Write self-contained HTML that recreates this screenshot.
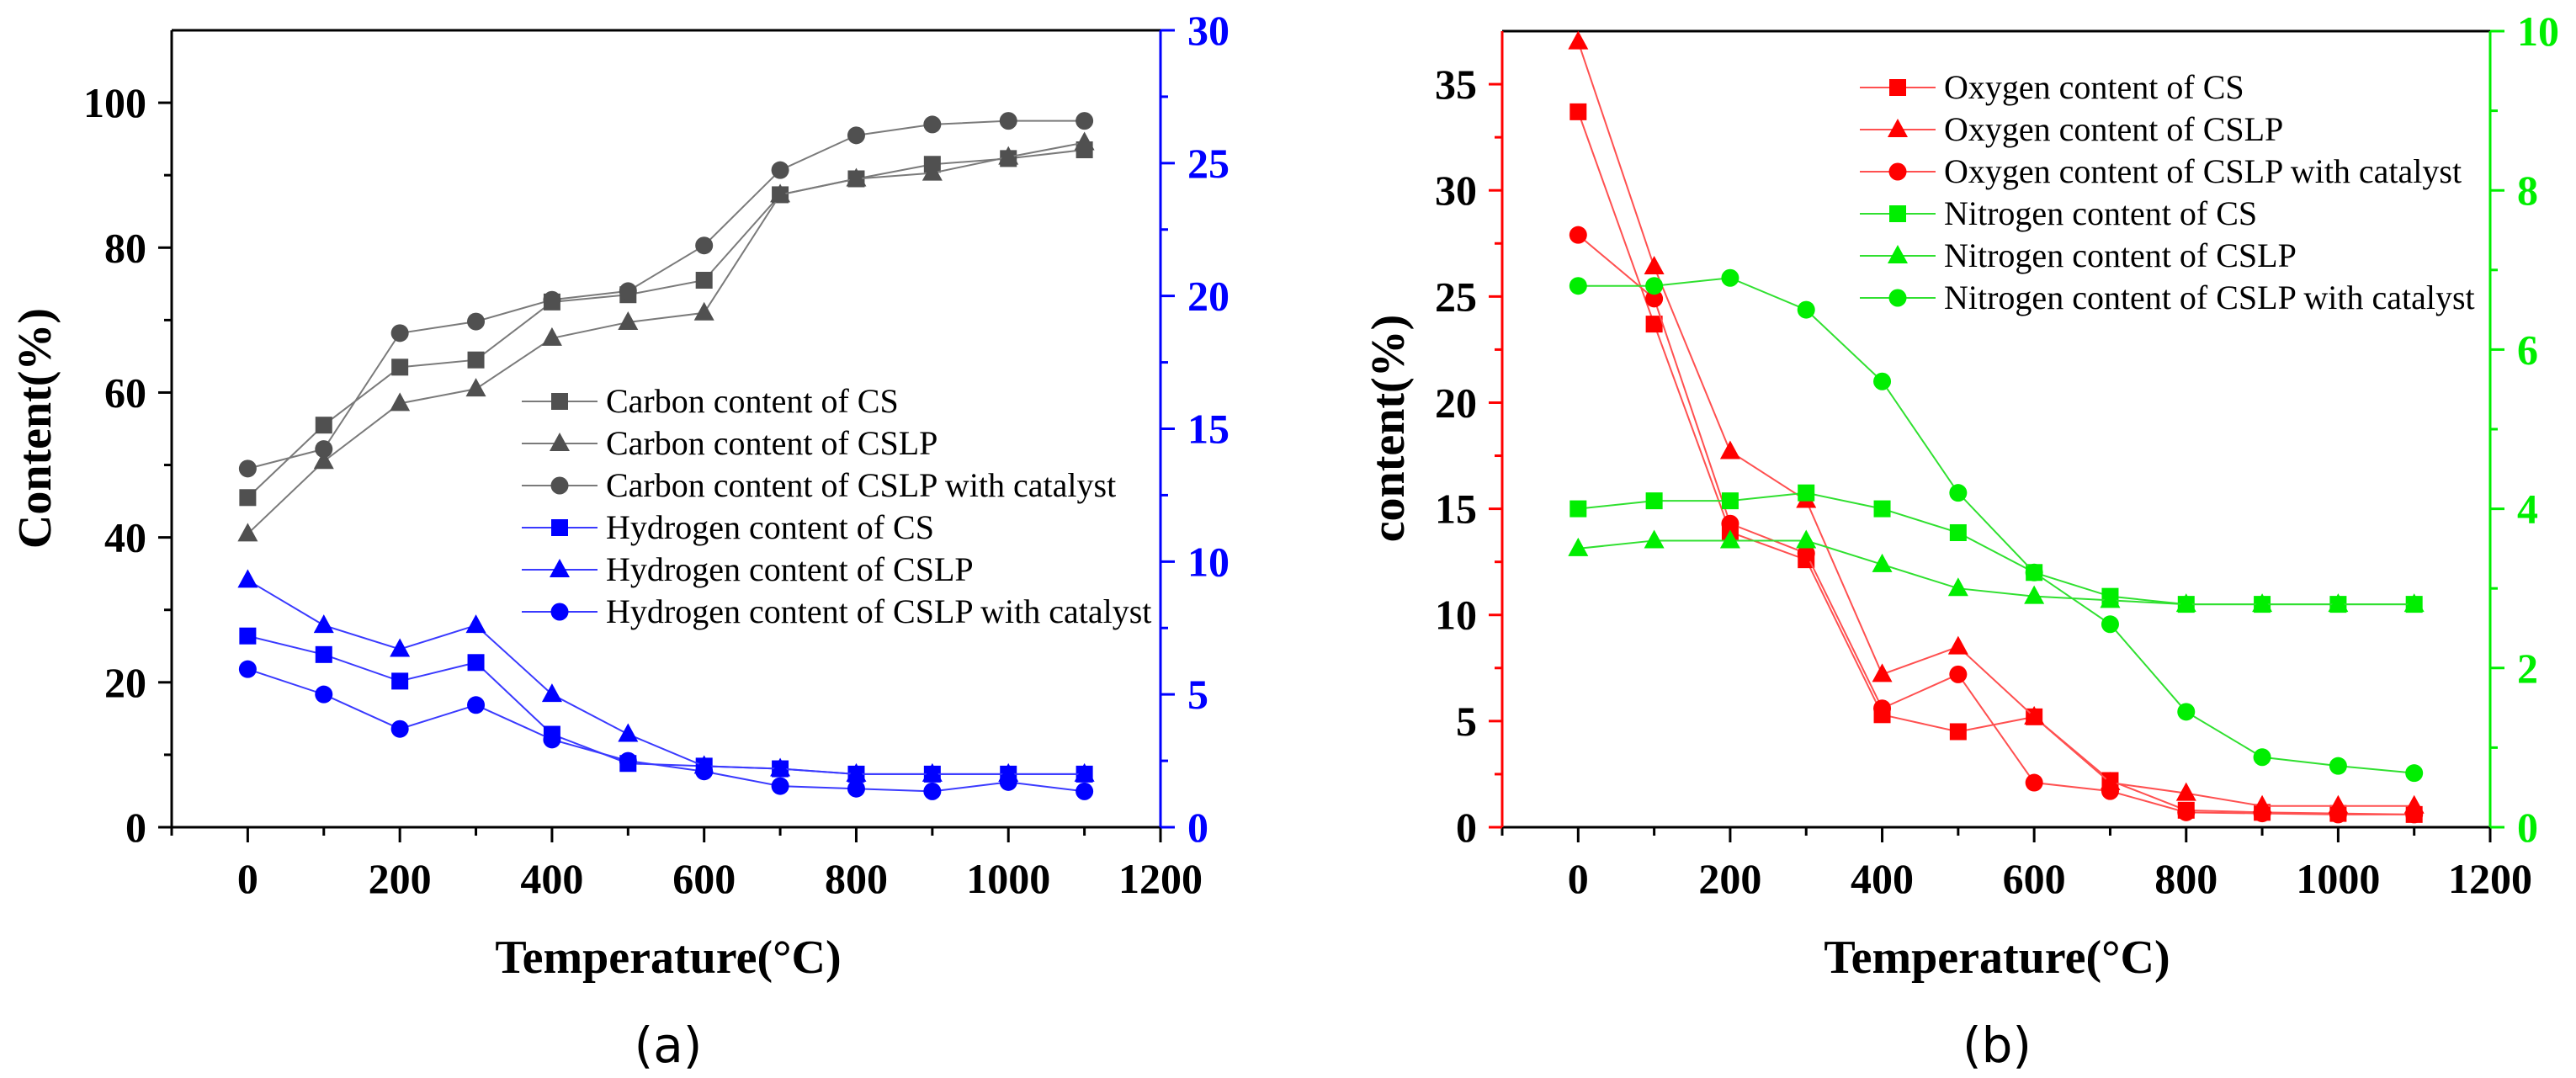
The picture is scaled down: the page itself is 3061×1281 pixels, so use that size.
<!DOCTYPE html>
<html><head><meta charset="utf-8"><style>
html,body{margin:0;padding:0;background:#fff;}
svg{display:block;font-family:"Liberation Serif",serif;}
</style></head><body>
<svg id="fig" width="3061" height="1281" viewBox="0 0 3061 1281" xmlns="http://www.w3.org/2000/svg"></svg>
<script>
const temps = [0,100,200,300,400,500,600,700,800,900,1000,1100];
const carbonCS = [45.5,55.5,63.5,64.5,72.5,73.5,75.5,87.3,89.5,91.5,92.3,93.5];
const carbonCSLP = [40.5,50.5,58.5,60.5,67.5,69.7,71,87.3,89.5,90.3,92.5,94.5];
const carbonCat = [49.5,52.2,68.2,69.8,72.8,74,80.3,90.7,95.5,97,97.5,97.5];
const hydroCS = [7.2,6.5,5.5,6.2,3.5,2.4,2.3,2.2,2.0,2.0,2.0,2.0];
const hydroCSLP = [9.3,7.6,6.7,7.6,5.0,3.5,2.3,2.2,2.0,2.0,2.0,2.0];
const hydroCat = [5.95,5.0,3.7,4.6,3.3,2.5,2.1,1.55,1.45,1.35,1.7,1.35];
const oxyCS = [33.7,23.7,13.9,12.6,5.3,4.5,5.2,2.2,0.8,0.7,0.65,0.6];
const oxyCSLP = [37,26.4,17.7,15.4,7.2,8.5,5.2,2.1,1.6,1.0,1.0,1.0];
const oxyCat = [27.9,24.9,14.3,12.9,5.6,7.2,2.1,1.7,0.7,0.65,0.6,0.6];
const nitCS = [4.0,4.1,4.1,4.2,4.0,3.7,3.2,2.9,2.8,2.8,2.8,2.8];
const nitCSLP = [3.5,3.6,3.6,3.6,3.3,3.0,2.9,2.85,2.8,2.8,2.8,2.8];
const nitCat = [6.8,6.8,6.9,6.5,5.6,4.2,3.2,2.55,1.45,0.88,0.77,0.68];
const xTicks = [0,200,400,600,800,1000,1200];
const leftTicksA = [0,20,40,60,80,100];
const rightTicksA = [0,5,10,15,20,25,30];
const leftTicksB = [0,5,10,15,20,25,30,35];
const rightTicksB = [0,2,4,6,8,10];

const NS="http://www.w3.org/2000/svg";
const svg=document.getElementById('fig');
function mk(tag,attrs,parent){const e=document.createElementNS(NS,tag);for(const k in attrs)e.setAttribute(k,attrs[k]);(parent||svg).appendChild(e);return e;}

function panel(o){
  const g=mk('g',{});
  
  
  const X=v=>o.x0+(v-(-100))/(1300)*(o.x1-o.x0);
  const YL=v=>o.yb-v/o.lmax*(o.yb-o.yt);
  const YR=v=>o.yb-v/o.rmax*(o.yb-o.yt);
  mk('line',{x1:o.x0,y1:o.yt,x2:o.x1,y2:o.yt,stroke:'#000','stroke-width':3},g);
  mk('line',{x1:o.x0-14,y1:o.yb,x2:o.x1,y2:o.yb,stroke:'#000','stroke-width':3},g);
  mk('line',{x1:o.x0,y1:o.yt,x2:o.x0,y2:o.yb,stroke:o.lc,'stroke-width':3},g);
  mk('line',{x1:o.x1,y1:o.yt,x2:o.x1,y2:o.yb,stroke:o.rc,'stroke-width':3},g);
  for(let v=-100;v<=1200;v+=100){
    const maj=xTicks.includes(v);
    mk('line',{x1:X(v),y1:o.yb,x2:X(v),y2:o.yb+(maj?18:10),stroke:'#000','stroke-width':3},g);
  }
  xTicks.forEach(v=>{const t=mk('text',{x:X(v),y:o.yb+78,'text-anchor':'middle','font-size':50,'font-weight':'bold'},g);t.textContent=v;
    });
  const ls=o.lt[1]-o.lt[0];
  o.lt.forEach((v,i)=>{
    mk('line',{x1:o.x0-16,y1:YL(v),x2:o.x0,y2:YL(v),stroke:o.lc,'stroke-width':3},g);
    const m=v+ls/2; if(m<o.lmax) mk('line',{x1:o.x0-9,y1:YL(m),x2:o.x0,y2:YL(m),stroke:o.lc,'stroke-width':3},g);
    const t=mk('text',{x:o.x0-30,y:YL(v)+17,'text-anchor':'end','font-size':50,'font-weight':'bold',fill:o.ltc},g);t.textContent=v;
    
  });
  const rs=o.rt[1]-o.rt[0];
  o.rt.forEach(v=>{
    mk('line',{x1:o.x1,y1:YR(v),x2:o.x1+17,y2:YR(v),stroke:o.rc,'stroke-width':3},g);
    const m=v+rs/2; if(m<o.rmax) mk('line',{x1:o.x1,y1:YR(m),x2:o.x1+9,y2:YR(m),stroke:o.rc,'stroke-width':3},g);
    const t=mk('text',{x:o.x1+32,y:YR(v)+17,'text-anchor':'start','font-size':50,'font-weight':'bold',fill:o.rc},g);t.textContent=v;
    
  });
  let t=mk('text',{x:o.xtx,y:1156,'text-anchor':'middle','font-size':56,'font-weight':'bold'},g);t.textContent='Temperature(°C)';
  
  t=mk('text',{x:0,y:0,'text-anchor':'middle','font-size':56,'font-weight':'bold',transform:`translate(${o.ytx},509) rotate(-90)`},g);t.textContent=o.ytitle;
  
  t=mk('text',{x:o.xtx,y:1262,'text-anchor':'middle','font-size':58,'font-family':'"DejaVu Sans",sans-serif'},g);t.textContent=o.label;
  
  function marker(shape,x,y,col,parent){
    if(shape==='s') return mk('rect',{x:x-10,y:y-10,width:20,height:20,fill:col},parent);
    if(shape==='t') return mk('polygon',{points:`${x},${y-13} ${x+12},${y+9} ${x-12},${y+9}`,fill:col},parent);
    return mk('circle',{cx:x,cy:y,r:10.5,fill:col},parent);
  }
  o.series.forEach((s,si)=>{
    const sg=mk('g',{},g);
    
    
    const Y=s.axis==='L'?YL:YR;
    mk('polyline',{points:temps.map((x,i)=>X(x)+','+Y(s.data[i])).join(' '),fill:'none',stroke:s.lcol,'stroke-width':2},sg);
    temps.forEach((x,i)=>marker(s.shape,X(x),Y(s.data[i]),s.col,sg));
    const ly=o.legY+si*50;
    const lg=mk('g',{},g);
    
    
    mk('line',{x1:o.legX,y1:ly,x2:o.legX+90,y2:ly,stroke:s.lcol,'stroke-width':2},lg);
    marker(s.shape,o.legX+45,ly,s.col,lg);
    const tt=mk('text',{x:o.legX+100,y:ly+13,'font-size':40},lg);tt.textContent=s.label;
  });
}
const gray='#505050',glin='#7a7a7a';
panel({name:'panel-a',x0:204,x1:1379,yt:36,yb:983,lmax:110,rmax:30,lt:leftTicksA,rt:rightTicksA,lc:'#000',ltc:'#000',rc:'#0000ff',
  xtx:794,ytx:60,ytitle:'Content(%)',label:'(a)',legX:620,legY:477,
  series:[
   {name:'carbon-cs-series',label:'Carbon content of CS',data:carbonCS,axis:'L',shape:'s',col:gray,lcol:glin},
   {name:'carbon-cslp-series',label:'Carbon content of CSLP',data:carbonCSLP,axis:'L',shape:'t',col:gray,lcol:glin},
   {name:'carbon-cat-series',label:'Carbon content of CSLP with catalyst',data:carbonCat,axis:'L',shape:'c',col:gray,lcol:glin},
   {name:'hydrogen-cs-series',label:'Hydrogen content of CS',data:hydroCS,axis:'R',shape:'s',col:'#0000ff',lcol:'#3a3aff'},
   {name:'hydrogen-cslp-series',label:'Hydrogen content of CSLP',data:hydroCSLP,axis:'R',shape:'t',col:'#0000ff',lcol:'#3a3aff'},
   {name:'hydrogen-cat-series',label:'Hydrogen content of CSLP with catalyst',data:hydroCat,axis:'R',shape:'c',col:'#0000ff',lcol:'#3a3aff'}]});
panel({name:'panel-b',x0:1785,x1:2959,yt:37,yb:983,lmax:37.5,rmax:10,lt:leftTicksB,rt:rightTicksB,lc:'#ff0000',ltc:'#000',rc:'#00ee00',
  xtx:2373,ytx:1668,ytitle:'content(%)',label:'(b)',legX:2210,legY:104,
  series:[
   {name:'oxygen-cs-series',label:'Oxygen content of CS',data:oxyCS,axis:'L',shape:'s',col:'#ff0000',lcol:'#ff5050'},
   {name:'oxygen-cslp-series',label:'Oxygen content of CSLP',data:oxyCSLP,axis:'L',shape:'t',col:'#ff0000',lcol:'#ff5050'},
   {name:'oxygen-cat-series',label:'Oxygen content of CSLP with catalyst',data:oxyCat,axis:'L',shape:'c',col:'#ff0000',lcol:'#ff5050'},
   {name:'nitrogen-cs-series',label:'Nitrogen content of CS',data:nitCS,axis:'R',shape:'s',col:'#00ee00',lcol:'#30e030'},
   {name:'nitrogen-cslp-series',label:'Nitrogen content of CSLP',data:nitCSLP,axis:'R',shape:'t',col:'#00ee00',lcol:'#30e030'},
   {name:'nitrogen-cat-series',label:'Nitrogen content of CSLP with catalyst',data:nitCat,axis:'R',shape:'c',col:'#00ee00',lcol:'#30e030'}]});
</script>
</body></html>
